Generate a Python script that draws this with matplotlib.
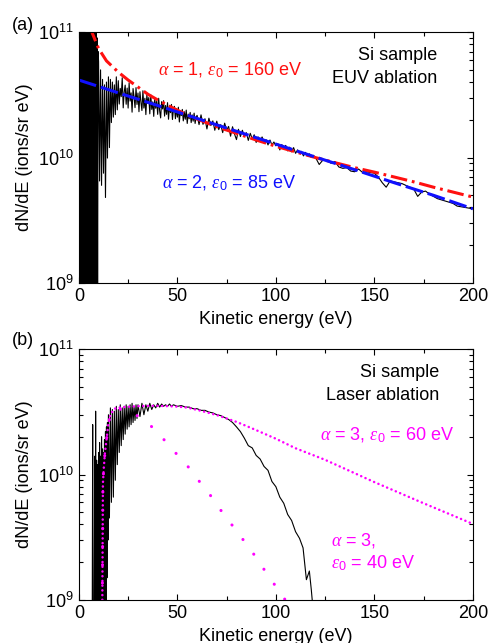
import numpy as np
import matplotlib
matplotlib.use("Agg")
import matplotlib.pyplot as plt
from matplotlib.ticker import LogLocator, NullFormatter, MultipleLocator

plt.rcParams['font.family'] = ['Liberation Sans', 'DejaVu Sans']
plt.rcParams['font.size'] = 13
plt.rcParams['mathtext.fontset'] = 'custom'
plt.rcParams['mathtext.rm'] = 'Liberation Sans'
plt.rcParams['mathtext.it'] = 'Liberation Serif:italic'
plt.rcParams['mathtext.bf'] = 'Liberation Sans:bold'
plt.rcParams['lines.scale_dashes'] = False

UNIT = 1e9  # all spectrum values below are in units of 1e9 ions/sr eV

# ---- panel (a): EUV ablation, measured spectrum ----
a_e_seg0 = np.arange(0, 10, 0.25)
a_y_seg0 = [0.6, 160, 0.5, 150, 0.6, 170, 0.5, 140, 0.7, 160,
            0.5, 150, 0.6, 130, 0.5, 160, 0.8, 120, 0.6, 140,
            0.5, 150, 0.7, 165, 0.5, 140, 0.6, 155, 0.5, 130,
            0.8, 150, 0.6, 120, 0.5, 110, 0.7, 90, 0.6, 70]
a_e_seg1 = np.arange(10, 20, 0.5)
a_y_seg1 = [58, 6.5, 50, 6, 42, 7.5, 38, 4.8, 40, 9.9,
            44, 12, 42, 19, 40, 21, 38, 22, 44, 24]
a_e_seg2 = np.arange(20, 60, 0.5)
a_y_seg2 = [41.0, 26.7, 35.6, 30.6, 43.3, 24.9, 33.3, 37.8, 26.6, 35.8,
            24.8, 39.4, 28.2, 32.8, 23.0, 35.5, 30.5, 25.0, 36.1, 26.5,
            32.7, 23.2, 33.5, 27.6, 23.7, 34.1, 24.8, 29.7, 22.0, 31.6,
            27.0, 30.1, 22.3, 31.6, 24.2, 27.8, 21.3, 29.6, 24.7, 28.2,
            22.1, 29.7, 23.6, 20.7, 27.9, 24.4, 28.4, 21.4, 26.0, 22.1,
            27.4, 20.2, 25.9, 22.8, 26.5, 20.1, 24.1, 25.6, 20.4, 24.6,
            21.0, 25.2, 19.2, 23.5, 21.6, 24.2, 19.6, 23.2, 20.2, 23.9,
            18.7, 22.2, 20.4, 22.9, 19.0, 21.9, 19.5, 22.6, 18.7, 21.0]
a_e_seg3 = np.arange(60, 121, 1)
a_y_seg3 = [21.7, 18.3, 21.9, 18.4, 20.4, 16.9, 20.6, 18.0, 19.6, 16.5,
            19.5, 16.7, 18.3, 15.8, 18.8, 16.5, 17.7, 14.8, 17.6, 15.4,
            13.9, 16.8, 14.7, 16.5, 14.7, 15.8, 13.7, 15.6, 14.1, 15.2,
            13.2, 14.6, 13.4, 14.6, 13.3, 13.9, 12.6, 13.8, 12.6, 13.3,
            12.4, 12.9, 11.5, 12.7, 11.8, 12.5, 11.3, 12.1, 11.1, 12.0,
            10.8, 11.5, 10.8, 11.2, 10.3, 11.0, 10.3, 10.7, 10.0, 10.4,
            10.1]
a_e_seg4 = np.arange(122, 201, 2)
a_y_seg4 = [8.8, 9.6, 9.5, 9.0, 9.3, 8.4, 8.2, 8.3, 7.8, 7.7,
            8.1, 7.6, 7.7, 7.6, 7.5, 7.0, 6.3, 5.8, 6.5, 6.4,
            6.3, 6.2, 6.0, 5.8, 5.6, 4.9, 5.3, 5.4, 5.1, 4.9,
            4.7, 4.6, 4.5, 4.4, 4.3, 4.1, 4.05, 4.0, 3.95, 3.9]

# fits, panel (a)
red_e = [5, 6.6, 10, 14, 20, 25, 30, 35, 40, 47, 55, 60, 70, 80, 90, 100,
         110, 120, 130, 140, 150, 160, 170, 180, 190, 200]
red_y = [112, 100, 74, 59, 48, 41.5, 36.5, 32, 28.8, 25.2, 21.8, 20.3, 17.6,
         15.6, 13.8, 12.3, 11.1, 10.0, 9.1, 8.3, 7.65, 7.0, 6.4, 5.8, 5.3, 4.84]
blue_e = [0, 20, 40, 60, 80, 100, 120, 140, 160, 180, 200]
blue_y = [41.5, 32.8, 26.0, 20.5, 16.2, 12.8, 10.1, 8.0, 6.3, 5.0, 3.9]

# ---- panel (b): laser ablation, measured spectrum ----
b_e_seg0 = np.arange(5, 15, 0.25)
b_y_seg0 = [0.5, 0.5, 0.5, 0.5, 0.5, 0.5, 0.5, 0.5, 25, 0.5,
            0.5, 0.5, 14, 0.5, 32, 0.5, 13, 0.5, 12, 0.5,
            15, 0.5, 18, 0.5, 14, 0.5, 20, 0.6, 16, 0.5,
            15, 0.7, 19, 0.6, 22, 0.8, 24, 1.5, 26, 3]
b_e_seg1 = np.arange(15, 30, 0.5)
b_y_seg1 = [30, 4.5, 34, 6, 33, 6.6, 32, 9, 35, 12,
            33, 15, 36, 17, 34, 19, 35, 21, 36, 23,
            35, 24, 36, 25, 37, 26, 35, 27, 36, 28]
b_e_seg2 = np.arange(30, 50, 1)
b_y_seg2 = [36, 29, 37, 30, 36, 32, 37, 33, 36, 34,
            37, 34.5, 36.5, 35, 36, 35, 36.5, 35, 36, 35.5]
b_e_seg3 = np.arange(50, 113, 2)
b_y_seg3 = [35, 35.5, 34.5, 34.5, 33.5, 33.5, 32.5, 32.5, 31.5, 31,
            30, 29.5, 28.5, 27.5, 26, 24, 22, 19.5, 17.0, 16.3,
            14.2, 13.3, 11.6, 10.8, 8.8, 8.0, 6.6, 5.9, 4.8, 4.3,
            3.5, 3.1]
b_e_tail = [113.8, 115.5, 117, 118, 119, 120]
b_y_tail = [2.6, 1.45, 1.7, 1.2, 0.8, 0.5]

# fits, panel (b)
m60_e = [11.8, 12.0, 12.2, 12.6, 13.2, 14.0, 14.9, 16, 18, 22, 26, 30, 35, 40,
         45, 50, 55, 61, 65, 70, 75, 80, 85, 90, 100, 110, 125, 150, 175, 200]
m60_y = [0.5, 2.0, 8.5, 11, 14.8, 18.8, 25, 30, 33.5, 34.5, 34.8, 35.1, 35.3,
         35.3, 35.1, 34.8, 34.2, 32.5, 31.3, 29.8, 28, 26.3, 24.4, 22.6, 19.3,
         16.2, 13.1, 8.7, 5.9, 4.04]
m40_e = [11.8, 12.0, 12.2, 12.6, 13.2, 14.0, 14.9, 16, 17.4, 20, 25, 33, 40.8,
         47.5, 54.1, 60.2, 66, 71.6, 77.5, 83.1, 88.5, 93.9, 99.1, 104.2, 109]
m40_y = [0.5, 2.0, 8.5, 11, 14.8, 18.8, 25, 30, 33, 33.5, 32, 27.7, 21, 15.8,
         12.3, 9.2, 7.1, 5.3, 4.0, 3.06, 2.35, 1.76, 1.34, 1.03, 0.8]


def style_axes(ax):
    ax.set_yscale('log')
    ax.set_xlim(0, 200)
    ax.set_ylim(1e9, 1e11)
    ax.xaxis.set_major_locator(MultipleLocator(50))
    ax.xaxis.set_minor_locator(MultipleLocator(25))
    ax.yaxis.set_major_locator(LogLocator(base=10))
    ax.yaxis.set_minor_locator(LogLocator(base=10, subs=np.arange(2, 10)))
    ax.yaxis.set_minor_formatter(NullFormatter())
    ax.tick_params(which='both', direction='in', top=True, right=True, width=0.8)
    ax.tick_params(which='major', length=4.5, pad=4)
    ax.tick_params(which='minor', length=3)
    for s in ax.spines.values():
        s.set_linewidth(0.8)
    ax.set_xlabel('Kinetic energy (eV)', labelpad=4)
    ax.set_ylabel('dN/dE (ions/sr eV)', labelpad=3)


fig = plt.figure(figsize=(4.9, 6.43), dpi=100)
ax_a = fig.add_axes([0.161, 0.560, 0.804, 0.390])
ax_b = fig.add_axes([0.161, 0.067, 0.804, 0.390])

# panel (a)
a_e = np.concatenate([a_e_seg0, a_e_seg1, a_e_seg2, a_e_seg3, a_e_seg4])
a_y = np.concatenate([a_y_seg0, a_y_seg1, a_y_seg2, a_y_seg3, a_y_seg4]) * UNIT
ax_a.plot(a_e, a_y, color='black', lw=0.8)
ax_a.plot(red_e, np.array(red_y) * UNIT, color='#ff1010', lw=2.2,
          linestyle=(0, (12, 3.5, 2, 3.5)))
ax_a.plot(blue_e, np.array(blue_y) * UNIT, color='#1010ff', lw=2.2,
          linestyle=(0, (13, 3.5)))
style_axes(ax_a)
ax_a.text(0.2, 0.849, r'$\alpha$ = 1, $\varepsilon_0$ = 160 eV', color='#ff1010',
          transform=ax_a.transAxes, va='center', ha='left')
ax_a.text(0.211, 0.398, r'$\alpha$ = 2, $\varepsilon_0$ = 85 eV', color='#1010ff',
          transform=ax_a.transAxes, va='center', ha='left')
ax_a.text(0.909, 0.908, 'Si sample', transform=ax_a.transAxes, va='center', ha='right')
ax_a.text(0.909, 0.817, 'EUV ablation', transform=ax_a.transAxes, va='center', ha='right')

# panel (b)
b_e = np.concatenate([b_e_seg0, b_e_seg1, b_e_seg2, b_e_seg3, b_e_tail])
b_y = np.concatenate([b_y_seg0, b_y_seg1, b_y_seg2, b_y_seg3, b_y_tail]) * UNIT
ax_b.plot(b_e, b_y, color='black', lw=0.8)
ax_b.plot(m60_e, np.array(m60_y) * UNIT, color='#ff00ff', lw=1.8,
          linestyle=(0, (0.1, 3.3)), dash_capstyle='round')
ax_b.plot(m40_e, np.array(m40_y) * UNIT, color='#ff00ff', lw=2.2,
          linestyle=(0, (0.1, 13)), dash_capstyle='round')
style_axes(ax_b)
ax_b.text(0.914, 0.908, 'Si sample', transform=ax_b.transAxes, va='center', ha='right')
ax_b.text(0.914, 0.817, 'Laser ablation', transform=ax_b.transAxes, va='center', ha='right')
ax_b.text(0.612, 0.655, r'$\alpha$ = 3, $\varepsilon_0$ = 60 eV', color='#ff00ff',
          transform=ax_b.transAxes, va='center', ha='left')
ax_b.text(0.64, 0.235, r'$\alpha$ = 3,', color='#ff00ff',
          transform=ax_b.transAxes, va='center', ha='left')
ax_b.text(0.64, 0.147, r'$\varepsilon_0$ = 40 eV', color='#ff00ff',
          transform=ax_b.transAxes, va='center', ha='left')

fig.text(0.024, 0.961, '(a)', va='center', ha='left')
fig.text(0.024, 0.470, '(b)', va='center', ha='left')

fig.savefig('out.png', dpi=100)
